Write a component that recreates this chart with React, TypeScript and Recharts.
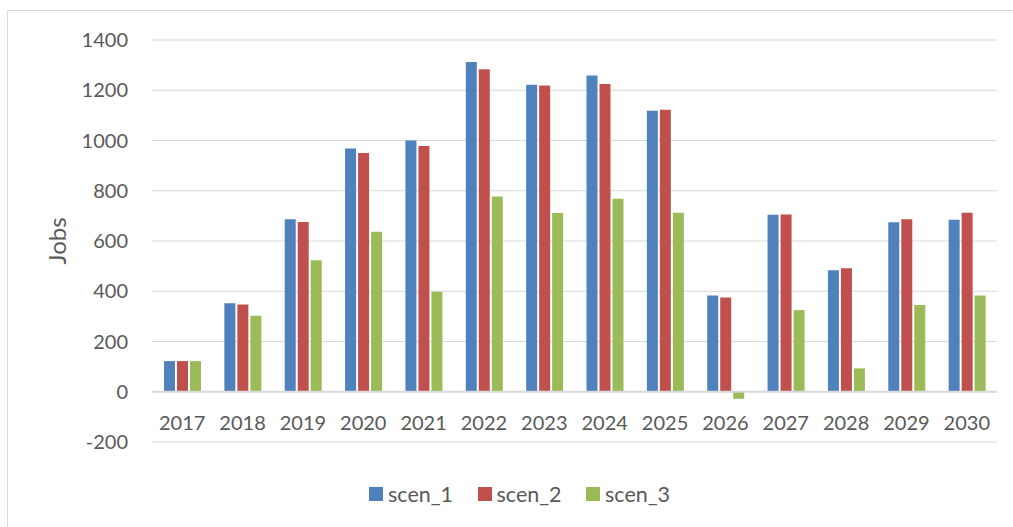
import React from "react";
import {
  BarChart,
  Bar,
  XAxis,
  YAxis,
  CartesianGrid,
  Legend,
  ReferenceLine,
} from "recharts";

const years = ["2017", "2018", "2019", "2020", "2021", "2022", "2023", "2024", "2025", "2026", "2027", "2028", "2029", "2030"];
const scen1 = [122, 352, 687, 968, 1000, 1312, 1222, 1259, 1118, 383, 704, 484, 675, 685];
const scen2 = [122, 347, 676, 950, 978, 1284, 1219, 1225, 1122, 375, 705, 492, 687, 712];
const scen3 = [122, 302, 523, 637, 398, 777, 711, 768, 712, -28, 325, 93, 345, 383];
const yTicks = [-200, 0, 200, 400, 600, 800, 1000, 1200, 1400];

const series = [
  { key: "scen_1", color: "#4F81BD" },
  { key: "scen_2", color: "#C0504D" },
  { key: "scen_3", color: "#9BBB59" },
];

const data = years.map((year, i) => ({
  year,
  scen_1: scen1[i],
  scen_2: scen2[i],
  scen_3: scen3[i],
}));

const FONT = "Lato, 'Open Sans', sans-serif";
const TEXT = "#595959";

const XTick = (props: any) => {
  const { x, y, payload } = props;
  return (
    <text x={x} y={y - 12} textAnchor="middle" fill={TEXT} fontSize={20} fontFamily={FONT}>
      {payload.value}
    </text>
  );
};

const LegendContent = () => (
  <div style={{ display: "flex", fontFamily: FONT, fontSize: 21.5, color: TEXT }}>
    {series.map((s) => (
      <div key={s.key} style={{ display: "flex", alignItems: "center", width: 108.5 }}>
        <span style={{ width: 14, height: 14, background: s.color, marginRight: 5 }} />
        <span>{s.key}</span>
      </div>
    ))}
  </div>
);

export default function App() {
  return (
    <div style={{ position: "absolute", left: 0, top: 0, width: 1013, height: 527, background: "#fff", overflow: "hidden" }}>
      <div
        style={{
          position: "absolute",
          left: 7,
          top: 10,
          width: 1020,
          height: 540,
          border: "1px solid #D9D9D9",
        }}
      />
      <BarChart
        width={1013}
        height={527}
        data={data}
        margin={{ top: 40, right: 16, left: 0, bottom: 45 }}
        barSize={11}
        barGap={2}
      >
        <CartesianGrid vertical={false} stroke="#D9D9D9" />
        <XAxis
          dataKey="year"
          axisLine={false}
          tickLine={false}
          tickSize={0}
          tickMargin={0}
          height={40}
          tick={<XTick />}
          interval={0}
        />
        <YAxis
          width={152}
          domain={[-200, 1400]}
          ticks={yTicks}
          axisLine={false}
          tickLine={false}
          tickSize={0}
          tickMargin={24}
          tick={{ fill: TEXT, fontSize: 20, fontFamily: FONT }}
          label={{
            value: "Jobs",
            angle: -90,
            position: "insideLeft",
            offset: 57,
            style: { textAnchor: "middle", fill: TEXT, fontSize: 24, fontFamily: FONT },
          }}
        />
        <ReferenceLine y={0} stroke="#D9D9D9" strokeWidth={2} />
        {series.map((s) => (
          <Bar key={s.key} dataKey={s.key} fill={s.color} isAnimationActive={false} />
        ))}
        <Legend
          layout="horizontal"
          verticalAlign="middle"
          align="center"
          content={<LegendContent />}
          wrapperStyle={{ left: 369, top: 481, width: 330 }}
        />
      </BarChart>
    </div>
  );
}
